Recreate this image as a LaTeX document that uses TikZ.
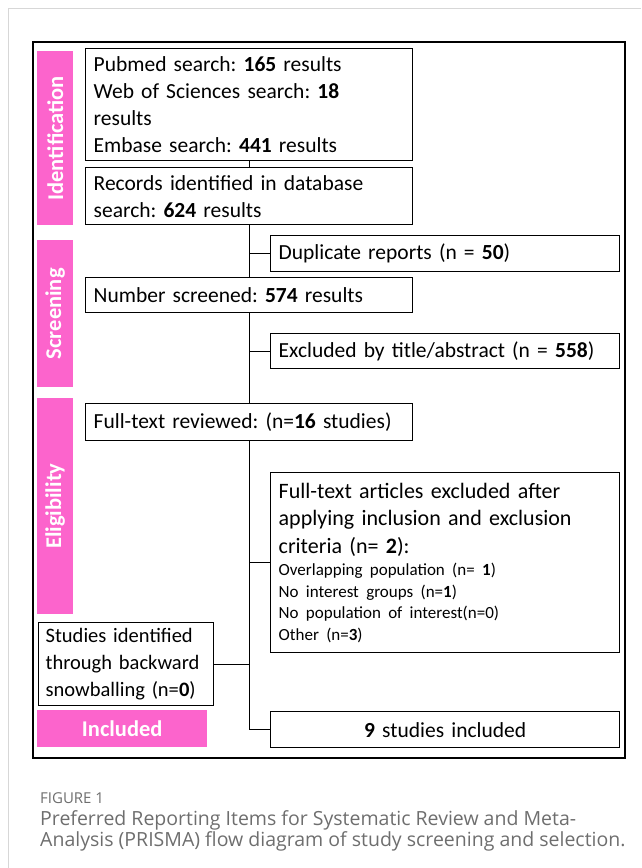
\documentclass[tikz,border=0pt]{standalone}
\usepackage{fontspec}
\setmainfont{Carlito}
\newfontfamily\capfont{Open Sans}
\definecolor{prismapink}{RGB}{252,100,204}
\definecolor{cardgray}{RGB}{215,215,215}
\definecolor{capgray}{RGB}{110,110,110}
\frenchspacing
\begin{document}
\begin{tikzpicture}[x=1pt,y=-1pt,
    box/.style={draw,line width=1.4pt,anchor=north west,inner sep=0pt,align=left,
      font=\fontsize{21.5}{27}\selectfont},
    bar/.style={fill=prismapink,anchor=north west,inner sep=0pt,text=white,
      font=\fontsize{22.5}{24}\selectfont\bfseries},
    barlabel/.style={white,rotate=90,font=\fontsize{22.5}{24}\selectfont\bfseries},
    link/.style={line width=1.4pt}]
  \useasboundingbox (0,0) rectangle (641,868);
  % card and outer frame
  \draw[cardgray,line width=1pt] (8,868) -- (8,8) -- (641,8);
  \draw[line width=1.4pt] (33,42) rectangle (625,758);
  % phase bars
  \node[bar,minimum width=36pt,minimum height=174pt] (idbar) at (37,51) {};
  \node[barlabel] (idtxt) at (idbar.center) {Identification};
  \node[bar,minimum width=36pt,minimum height=147pt] (scbar) at (37,240) {};
  \node[barlabel] (sctxt) at (scbar.center) {Screening};
  \node[bar,minimum width=36pt,minimum height=216pt] (elbar) at (37,398) {};
  \node[barlabel] (eltxt) at (elbar.center) {Eligibility};
  \node[bar,minimum width=170pt,minimum height=37pt] (inbar) at (37,710) {Included};
  % boxes
  \node[box,minimum width=327pt,minimum height=112pt,text width=311pt] (srch) at (85,48)
    {Pubmed search: \textbf{165} results\\Web of Sciences search: \textbf{18}\\results\\Embase search: \textbf{441} results};
  \node[box,minimum width=327pt,minimum height=57pt,text width=311pt] (recs) at (85,167)
    {Records identified in database\\search: \textbf{624} results};
  \node[box,minimum width=349pt,minimum height=36pt,text width=333pt] (dupl) at (270,235)
    {Duplicate reports (n = \textbf{50})};
  \node[box,minimum width=327pt,minimum height=35pt,text width=311pt] (scrn) at (85,277)
    {Number screened: \textbf{574} results};
  \node[box,minimum width=349pt,minimum height=35pt,text width=333pt] (excl) at (270,333)
    {Excluded by title/abstract (n = \textbf{558})};
  \node[box,minimum width=327pt,minimum height=37pt,text width=311pt] (full) at (85,403)
    {Full-text reviewed: (n=\textbf{16} studies)};
  \node[box,minimum width=349pt,minimum height=180pt,text width=333pt,
        font=\fontsize{22}{27.5}\selectfont] (exft) at (270,472)
    {Full-text articles excluded after\\applying inclusion and exclusion\\criteria (n= \textbf{2}):\\[1pt]
     {\fontsize{17}{21.5}\selectfont Overlapping population (n= \textbf{1})\\No interest groups (n=\textbf{1})\\No population of interest(n=0)\\Other (n=\textbf{3})\par}};
  \node[box,minimum width=175pt,minimum height=83pt,text width=161pt,
        font=\fontsize{20.5}{27}\selectfont] (snow) at (38,622)
    {Studies identified\\through backward\\snowballing (n=\textbf{0})};
  \node[box,minimum width=349pt,minimum height=36pt,align=center,text width=349pt] (incl) at (270,711)
    {\textbf{9} studies included};
  % connectors
  \coordinate (turn) at (recs.south |- incl.west);
  \draw[link] (srch) -- (recs);
  \draw[link] (recs.south) -- (scrn.north);
  \draw[link] (scrn.south) -- (full.north);
  \draw[link] (full.south) -- (turn) -- (incl.west);
  \draw[link] (dupl.west -| recs.south) -- (dupl.west);
  \draw[link] (excl.west -| scrn.south) -- (excl.west);
  \draw[link] (exft.west -| full.south) -- (exft.west);
  \draw[link] (snow.east) -- (snow.east -| full.south);
  % caption
  \node[anchor=west,inner sep=0pt,text=capgray,font=\capfont\fontsize{15}{17}\selectfont] (fig) at (40,798) {FIGURE 1};
  \node[anchor=north west,inner sep=0pt,align=left,text=capgray,font=\capfont\fontsize{19.5}{21}\selectfont] (cap) at (40,810)
    {Preferred Reporting Items for Systematic Review and Meta-\\Analysis (PRISMA) flow diagram of study screening and selection.};
\end{tikzpicture}
\end{document}
